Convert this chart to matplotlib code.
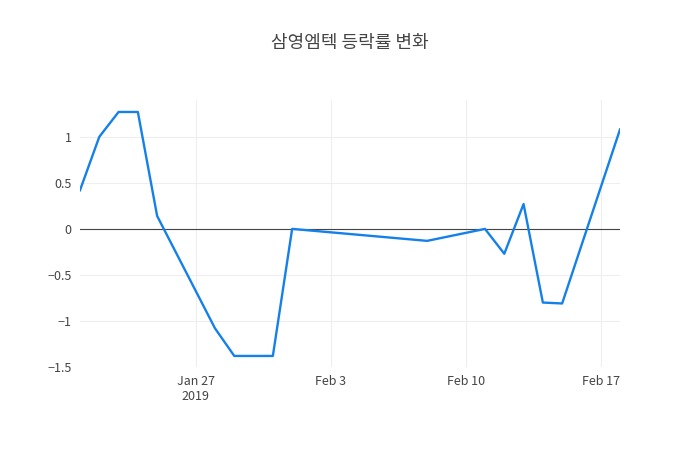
import matplotlib
matplotlib.use("Agg")
import matplotlib.pyplot as plt
import pandas as pd

plt.rcParams['font.family'] = ['Noto Sans CJK KR', 'DejaVu Sans']

dates = ["2019-01-21", "2019-01-22", "2019-01-23", "2019-01-24", "2019-01-25",
         "2019-01-28", "2019-01-29", "2019-01-31", "2019-02-01", "2019-02-08",
         "2019-02-11", "2019-02-12", "2019-02-13", "2019-02-14", "2019-02-15",
         "2019-02-18"]
change = [0.42, 1.0, 1.27, 1.27, 0.14, -1.08, -1.38, -1.38, 0.0, -0.13,
          0.0, -0.27, 0.27, -0.80, -0.81, 1.08]
x = pd.to_datetime(dates)

fig = plt.figure(figsize=(7, 4.5), dpi=100)
ax = fig.add_axes([80/700, 83/450, 540/700, 267/450])
ax.plot(x, change, color='#1580ea', lw=1.7, zorder=3)
ax.axhline(0, color='#444444', lw=0.8, zorder=2)

ax.set_xlim(x[0], x[-1])
ax.set_ylim(-1.5, 1.40)
ax.set_yticks([-1.5, -1, -0.5, 0, 0.5, 1])
ax.set_yticklabels(['−1.5', '−1', '−0.5', '0', '0.5', '1'])
ticks = pd.to_datetime(["2019-01-27", "2019-02-03", "2019-02-10", "2019-02-17"])
ax.set_xticks(ticks)
ax.set_xticklabels(["Jan 27\n2019", "Feb 3", "Feb 10", "Feb 17"])
ax.grid(True, color='#eeeeee', lw=0.8, zorder=0)
for s in ax.spines.values():
    s.set_visible(False)
ax.tick_params(length=0, labelsize=9, colors='#444444', pad=6)
fig.suptitle("삼영엠텍 등락률 변화", y=0.925, fontsize=13, color='#444444')
fig.savefig("out.png")
